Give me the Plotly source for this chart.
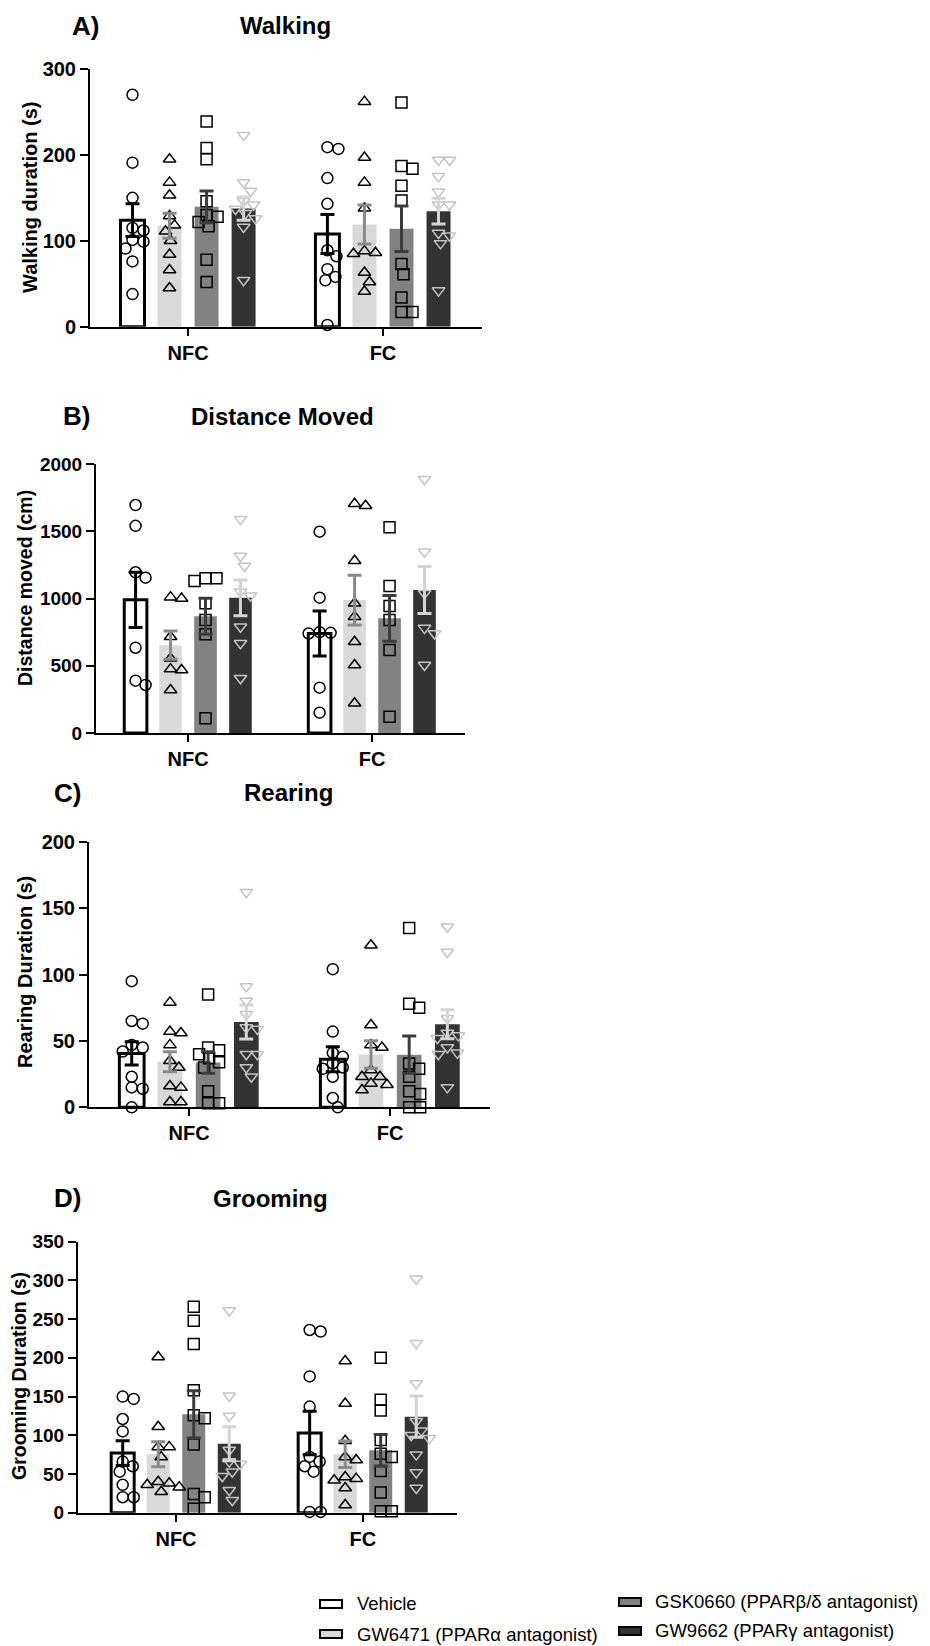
import plotly.graph_objects as go

# ---------------- data ----------------
conditions = ["NFC", "FC"]
groups = ["Vehicle", "GW6471 (PPARα antagonist)", "GSK0660 (PPARβ/δ antagonist)", "GW9662 (PPARγ antagonist)"]

# A) Walking duration (s)
walking_nfc_points = [
    [270, 191, 150, 115, 112, 101, 99, 91, 76, 38],
    [195, 168, 153, 129, 118, 111, 100, 84, 66, 45],
    [239, 208, 195, 146, 130, 128, 122, 117, 78, 52],
    [223, 168, 158, 146, 142, 137, 132, 126, 116, 54],
]
walking_fc_points = [
    [209, 207, 173, 143, 89, 82, 67, 58, 54, 2],
    [262, 197, 168, 138, 88, 86, 85, 63, 52, 41],
    [261, 187, 184, 164, 147, 73, 61, 34, 17, 17],
    [194, 194, 175, 157, 142, 142, 109, 106, 97, 42],
]
walking_nfc_mean = [124, 117.5, 139.5, 137.5]
walking_nfc_sem = [19, 14.5, 18.5, 13.5]
walking_fc_mean = [108, 119, 114, 134.5]
walking_fc_sem = [22.7, 22.7, 26.6, 15]

# B) Distance moved (cm)
distance_nfc_points = [
    [1695, 1540, 1195, 1155, 634, 389, 357],
    [1010, 1000, 716, 555, 475, 468, 320],
    [1150, 1150, 1130, 965, 840, 735, 110],
    [1590, 1316, 1242, 1050, 1020, 790, 667, 407],
]
distance_fc_points = [
    [1497, 1006, 750, 745, 740, 337, 151],
    [1690, 1705, 1281, 964, 865, 679, 506, 221],
    [1529, 1093, 944, 840, 617, 121],
    [1886, 1348, 1039, 780, 740, 506],
]
distance_nfc_mean = [990, 653, 868, 1005]
distance_nfc_sem = [205, 105, 134, 133]
distance_fc_mean = [740, 988, 853, 1063]
distance_fc_sem = [167, 185, 170, 174]

# C) Rearing duration (s)
rearing_nfc_points = [
    [95, 65, 63, 47, 45, 42, 23, 15, 14, 0],
    [79, 57, 56, 47, 35, 30, 16, 15, 4, 4],
    [85, 45, 43, 40, 37, 34, 30, 12, 3, 3],
    [162, 91, 80, 70, 60, 59, 40, 40, 30, 23],
]
rearing_fc_points = [
    [104, 57, 41, 38, 33, 30, 29, 23, 7, 0],
    [122, 62, 47, 45, 28, 23, 23, 18, 17, 13],
    [135, 78, 75, 33, 29, 23, 12, 10, 0, 0],
    [136, 117, 67, 56, 54, 52, 45, 41, 40, 15],
]
rearing_nfc_mean = [40.6, 34.3, 33.7, 64.2]
rearing_nfc_sem = [8.8, 7.5, 8.1, 12.8]
rearing_fc_mean = [36.2, 39.8, 39.6, 62.5]
rearing_fc_sem = [9.4, 10.4, 14, 10.9]

# D) Grooming duration (s)
grooming_nfc_points = [
    [150, 147, 121, 105, 66, 60, 53, 36, 20, 20],
    [201, 111, 85, 85, 72, 40, 38, 36, 33, 27],
    [266, 248, 218, 158, 126, 122, 88, 24, 20, 5],
    [261, 151, 125, 81, 66, 63, 53, 47, 29, 16],
]
grooming_fc_points = [
    [236, 234, 176, 137, 72, 66, 60, 53, 1, 1],
    [196, 141, 93, 72, 68, 46, 44, 42, 32, 10],
    [200, 146, 132, 94, 76, 72, 54, 26, 2, 2],
    [302, 219, 167, 118, 106, 100, 96, 75, 52, 32],
]
grooming_nfc_mean = [77, 75.5, 127, 89]
grooming_nfc_sem = [16, 16, 30.6, 22]
grooming_fc_mean = [103, 75.5, 80.5, 124]
grooming_fc_sem = [28, 17, 20.5, 26.7]

# ---------------- styling / layout ----------------
W, H = 930, 1646
FONT = "Liberation Sans, Arial, sans-serif"
bar_fill = ["#ffffff", "#d9d9d9", "#828282", "#333333"]
bar_line = ["#000000", "#d9d9d9", "#828282", "#333333"]
bar_line_w = [3, 0, 0, 0]
err_color = ["#000000", "#8a8a8a", "#3c3c3c", "#d4d4d4"]
mk_symbol = ["circle-open", "triangle-up-open", "square-open", "triangle-down-open"]
mk_color = ["#000000", "#000000", "#000000", "#c4c4c4"]
offsets = [-0.285, -0.095, 0.095, 0.285]
bar_w = 0.123

panels = [
    dict(label="A)", title="Walking", ytitle="Walking duration (s)",
         nfc=walking_nfc_points, fc=walking_fc_points,
         nm=walking_nfc_mean, ns=walking_nfc_sem, fm=walking_fc_mean, fs=walking_fc_sem,
         x0=90, x1=482, xr=[-0.503, 1.508], yt=69, yb=326.7, ymax=300, dtick=100,
         lab=(85, 26), tit=(285, 26), ytit=(30, 198), tfs=20, yfs=20),
    dict(label="B)", title="Distance Moved", ytitle="Distance moved (cm)",
         nfc=distance_nfc_points, fc=distance_fc_points,
         nm=distance_nfc_mean, ns=distance_nfc_sem, fm=distance_fc_mean, fs=distance_fc_sem,
         x0=96, x1=465, xr=[-0.5, 1.505], yt=464, yb=733, ymax=2000, dtick=500,
         lab=(76, 416), tit=(282, 416), ytit=(25, 588), tfs=19, yfs=19.5),
    dict(label="C)", title="Rearing", ytitle="Rearing Duration (s)",
         nfc=rearing_nfc_points, fc=rearing_fc_points,
         nm=rearing_nfc_mean, ns=rearing_nfc_sem, fm=rearing_fc_mean, fs=rearing_fc_sem,
         x0=89, x1=490, xr=[-0.4975, 1.497], yt=841.7, yb=1107.3, ymax=200, dtick=50,
         lab=(67, 793), tit=(288, 793), ytit=(25, 972), tfs=20, yfs=20),
    dict(label="D)", title="Grooming", ytitle="Grooming Duration (s)",
         nfc=grooming_nfc_points, fc=grooming_fc_points,
         nm=grooming_nfc_mean, ns=grooming_nfc_sem, fm=grooming_fc_mean, fs=grooming_fc_sem,
         x0=78, x1=457, xr=[-0.524, 1.503], yt=1241.7, yb=1512.7, ymax=350, dtick=50,
         lab=(67, 1198), tit=(270, 1198), ytit=(19, 1376), tfs=19, yfs=19.5),
]


def px_x(px):
    return px / W


def px_y(py):
    return 1 - py / H


def swarm(vals, ypx, xpx, d=10.5):
    placed = []
    offs = [0.0] * len(vals)
    order = sorted(range(len(vals)), key=lambda i: -vals[i])
    for i in order:
        y = vals[i] * ypx
        best = None
        for k in range(0, 80):
            for s in ([0] if k == 0 else [k, -k]):
                x = float(s)
                if all((x - a) ** 2 + (y - b) ** 2 >= d * d for a, b in placed):
                    best = x
                    break
            if best is not None:
                break
        placed.append((best, y))
        offs[i] = best / xpx
    return offs


fig = go.Figure()
layout = dict(width=W, height=H, margin=dict(l=0, r=0, t=0, b=0, autoexpand=False),
              autosize=False,
              plot_bgcolor="white", paper_bgcolor="white", showlegend=False,
              annotations=[], shapes=[])

bars, scatters, errs = [], [], []
for pi, p in enumerate(panels):
    sfx = "" if pi == 0 else str(pi + 1)
    xid, yid = "x" + sfx, "y" + sfx
    xtickfont = dict(family=FONT, size=20, color="black", weight="bold")
    ytickfont = dict(family=FONT, size=p["tfs"], color="black", weight="bold")
    layout["xaxis" + sfx] = dict(
        domain=[px_x(p["x0"]), px_x(p["x1"])], range=p["xr"], anchor=yid,
        tickmode="array", tickvals=[0, 1], ticktext=conditions,
        ticks="outside", ticklen=7, tickwidth=2, tickcolor="black",
        showline=True, linewidth=2, linecolor="black", showgrid=False, zeroline=False,
        automargin=False, tickfont=xtickfont)
    layout["yaxis" + sfx] = dict(
        domain=[px_y(p["yb"]), px_y(p["yt"])], range=[0, p["ymax"]], anchor=xid,
        dtick=p["dtick"], tick0=0, ticks="outside", ticklen=8, tickwidth=2, tickcolor="black",
        showline=True, linewidth=2, linecolor="black", showgrid=False, zeroline=False,
        automargin=False, tickfont=ytickfont)
    xpx = (p["x1"] - p["x0"]) / (p["xr"][1] - p["xr"][0])
    ypx = (p["yb"] - p["yt"]) / p["ymax"]

    for g in range(4):
        xs = [0 + offsets[g], 1 + offsets[g]]
        bars.append(go.Bar(
            x=xs, y=[p["nm"][g], p["fm"][g]], width=bar_w, xaxis=xid, yaxis=yid,
            marker=dict(color=bar_fill[g], line=dict(color=bar_line[g], width=bar_line_w[g])),
            hoverinfo="skip"))
        px_, py_ = [], []
        for ci, pts in enumerate([p["nfc"][g], p["fc"][g]]):
            jit = swarm(pts, ypx, xpx)
            px_ += [ci + offsets[g] + j for j in jit]
            py_ += list(pts)
        scatters.append(go.Scatter(
            x=px_, y=py_, mode="markers", xaxis=xid, yaxis=yid, cliponaxis=False,
            marker=dict(symbol=mk_symbol[g], size=11, color=mk_color[g], line=dict(width=1.5)),
            hoverinfo="skip"))
        errs.append(go.Scatter(
            x=xs, y=[p["nm"][g], p["fm"][g]], mode="markers", xaxis=xid, yaxis=yid,
            cliponaxis=False, marker=dict(size=1, opacity=0),
            error_y=dict(type="data", array=[p["ns"][g], p["fs"][g]], color=err_color[g],
                         thickness=3, width=7),
            hoverinfo="skip"))

    layout["annotations"] += [
        dict(text=p["label"], x=px_x(p["lab"][0]), y=px_y(p["lab"][1]), xref="paper", yref="paper",
             showarrow=False, xanchor="center", yanchor="middle",
             font=dict(family=FONT, size=26, color="black", weight="bold")),
        dict(text=p["title"], x=px_x(p["tit"][0]), y=px_y(p["tit"][1]), xref="paper", yref="paper",
             showarrow=False, xanchor="center", yanchor="middle",
             font=dict(family=FONT, size=24, color="black", weight="bold")),
        dict(text=p["ytitle"], x=px_x(p["ytit"][0]), y=px_y(p["ytit"][1]), xref="paper", yref="paper",
             showarrow=False, xanchor="center", yanchor="middle", textangle=-90,
             font=dict(family=FONT, size=p["yfs"], color="black", weight="bold")),
    ]

for t in bars + scatters + errs:
    fig.add_trace(t)

# legend (manual, two columns)
leg_pos = [  # (box_x0, box_y_center, text_x, text_y) in px
    (320, 1604, 355, 1603),
    (320, 1634, 355, 1634),
    (619, 1602, 653, 1601),
    (619, 1631, 653, 1630),
]
for g in range(4):
    bx, by, tx, ty = leg_pos[g]
    layout["shapes"].append(dict(
        type="rect", xref="paper", yref="paper",
        x0=px_x(bx), x1=px_x(bx + 22), y0=px_y(by + 4), y1=px_y(by - 4),
        line=dict(color="black", width=2), fillcolor=bar_fill[g]))
    layout["annotations"].append(dict(
        text=groups[g], x=px_x(tx), y=px_y(ty), xref="paper", yref="paper",
        showarrow=False, xanchor="left", yanchor="middle",
        font=dict(family=FONT, size=18.5, color="black")))

fig.update_layout(**layout)
fig.write_html("out.html", config={"displayModeBar": False},
               post_script="document.body.style.margin='0';document.body.style.padding='0';"
                           "document.documentElement.style.margin='0';"
                           "document.body.style.overflow='hidden';")
